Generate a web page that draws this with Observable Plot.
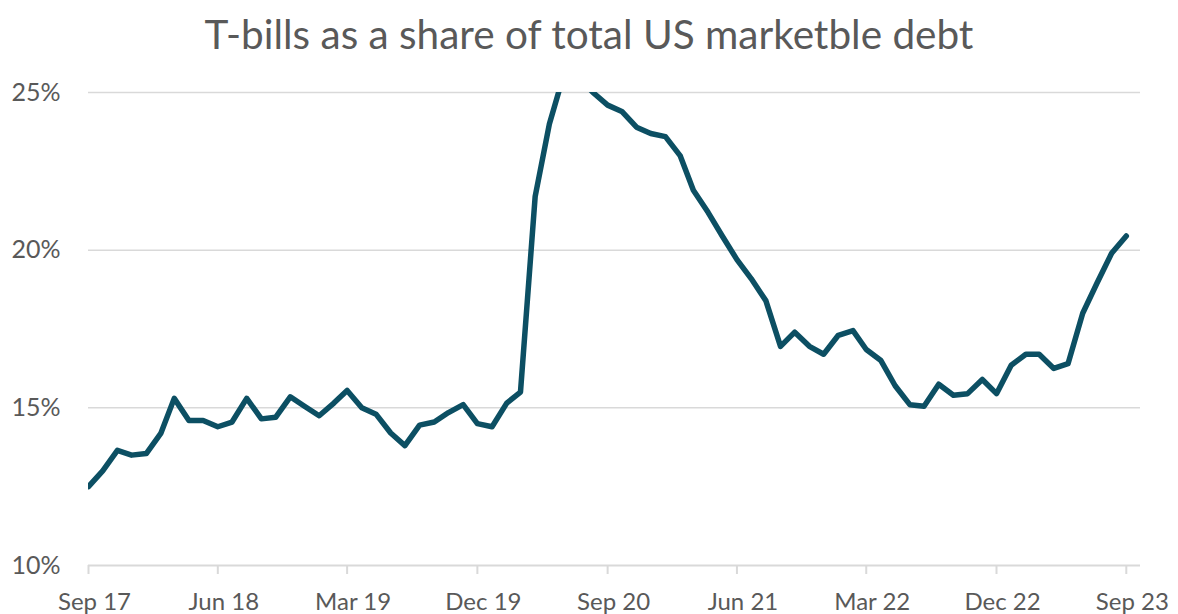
<!DOCTYPE html>
<html><head><meta charset="utf-8">
<script src="https://cdn.jsdelivr.net/npm/d3@7"></script>
<script src="https://cdn.jsdelivr.net/npm/@observablehq/plot@0.6"></script>
<style>
body{margin:0;background:#fff;width:1178px;height:614px;overflow:hidden;}
#title{height:70px;line-height:68px;text-align:center;font-family:Lato,sans-serif;font-size:40.5px;color:#595959;white-space:nowrap;}
#chart svg{display:block;}
</style></head><body>
<div id="title">T-bills as a share of total US marketble debt</div>
<div id="chart"></div>
<script>
// Monthly observations, Sep 2017 .. Sep 2023 (T-bill share of marketable debt, %)
const firstMonth = "2017-09-01";
const lastMonth = "2023-09-01";
const billShare = [
  12.5, 13.0, 13.65, 13.5, 13.55, 14.2, 15.3, 14.6, 14.6, 14.4, 14.55, 15.3,
  14.65, 14.7, 15.35, 15.05, 14.75, 15.15, 15.55, 15.0, 14.8, 14.2, 13.8, 14.45,
  14.55, 14.85, 15.1, 14.5, 14.4, 15.15, 15.5, 21.7, 24.0, 25.6, 25.5, 25.0,
  24.6, 24.4, 23.9, 23.7, 23.6, 23.0, 21.9, 21.2, 20.45, 19.7, 19.1, 18.4,
  16.95, 17.4, 16.95, 16.7, 17.3, 17.45, 16.85, 16.5, 15.7, 15.1, 15.05, 15.75,
  15.4, 15.45, 15.9, 15.45, 16.35, 16.7, 16.7, 16.25, 16.4, 18.0, 18.95, 19.9,
  20.45
];
const xTickLabels = ["Sep 17","Jun 18","Mar 19","Dec 19","Sep 20","Jun 21","Mar 22","Dec 22","Sep 23"];
const yTicks = [10, 15, 20, 25];
const gridTicks = [15, 20, 25];

const months = d3.utcMonth.range(new Date(firstMonth), d3.utcMonth.offset(new Date(lastMonth), 1));
const data = billShare.map((v, i) => ({date: months[i], value: v}));
const parseLabel = d3.utcParse("%b %y");
const xTicks = xTickLabels.map(parseLabel);
const fmtLabel = d3.utcFormat("%b %y");

const lineColor = "#0c4f63";
const gridColor = "#d9d9d9";
const textColor = "#595959";

const chart = Plot.plot({
  width: 1178,
  height: 544,
  marginTop: 22,
  marginBottom: 49,
  marginLeft: 88,
  marginRight: 38,
  style: {fontFamily: "Lato, sans-serif", color: textColor, background: "#fff"},
  x: {type: "utc", domain: [new Date(firstMonth), d3.utcMonth.offset(new Date(lastMonth), 1)]},
  y: {domain: [10, 25]},
  marks: [
    Plot.ruleY(gridTicks, {stroke: gridColor, strokeWidth: 1.5}),
    Plot.ruleY([10], {stroke: gridColor, strokeWidth: 2}),
    Plot.axisY({ticks: yTicks, tickSize: 0, tickPadding: 28, tickFormat: d => d + "%", fontSize: 25, fill: textColor, label: null}),
    Plot.axisX({ticks: xTicks, tickSize: 9, stroke: gridColor, strokeWidth: 2, text: null, label: null}),
    Plot.axisX({ticks: xTicks, tickSize: 0, tickPadding: 27, dx: 6, tickFormat: fmtLabel, fontSize: 24, fill: textColor, label: null}),
    Plot.lineY(data, {x: "date", y: "value", stroke: lineColor, strokeWidth: 5.5, strokeLinejoin: "round", strokeLinecap: "round", clip: true})
  ]
});
document.getElementById("chart").appendChild(chart);
</script>
</body></html>
